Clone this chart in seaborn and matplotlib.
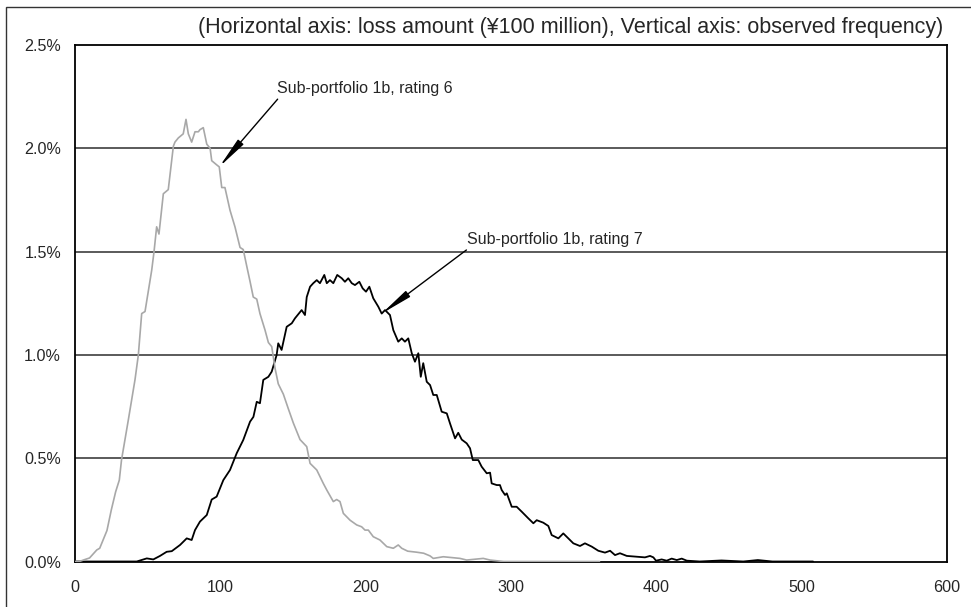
import pandas as pd
import matplotlib
matplotlib.use("Agg")
import matplotlib.pyplot as plt
import seaborn as sns
from matplotlib.patches import Rectangle

# 横轴: 损失额 (亿日元), 纵轴: 观测频率 (%)
r6_x = [0, 3, 7, 10, 15, 17, 22, 25, 28, 30.5, 32, 36.7, 41.3, 43.6, 45.9, 48.2, 52.8, 54.4, 56.2, 57.8,
        60.8, 64.2, 67.7, 68.8, 71.1, 74.5, 76.4, 78.0, 80.3, 82.6, 84.9, 86.0, 88.3, 90.7, 93.0, 94.1,
        97.5, 99.3, 101.0, 103.2, 106.7, 110.1, 113.6, 115.8, 118.2, 120.5, 122.7, 125.1, 127.3, 130.8,
        133.1, 135.4, 137.7, 139.9, 143.4, 146.8, 150.3, 154.9, 159.5, 161.8, 166.4, 170.9, 173.3, 177.8,
        180.1, 182.4, 184.7, 189.3, 193.9, 197.3, 199.6, 201.9, 205.3, 209.9, 214.6, 219.1, 222.5, 224.9,
        229.0, 235.2, 240.0, 244.4, 246.6, 253.5, 265.0, 269.6, 281.0, 285.7, 295.0, 361.0]
r6_y = [0.0, 0.0, 0.01, 0.017, 0.056, 0.064, 0.15, 0.25, 0.338, 0.394, 0.491, 0.685, 0.88, 1.0, 1.2, 1.21,
        1.41, 1.5, 1.62, 1.585, 1.78, 1.80, 2.01, 2.03, 2.05, 2.07, 2.14, 2.07, 2.03, 2.08, 2.08, 2.09,
        2.10, 2.02, 2.0, 1.94, 1.92, 1.91, 1.81, 1.81, 1.70, 1.62, 1.52, 1.51, 1.43, 1.355, 1.28, 1.27,
        1.20, 1.12, 1.06, 1.04, 0.935, 0.86, 0.81, 0.74, 0.67, 0.59, 0.556, 0.475, 0.443, 0.378, 0.346,
        0.29, 0.30, 0.29, 0.233, 0.20, 0.177, 0.168, 0.152, 0.152, 0.12, 0.104, 0.072, 0.064, 0.08, 0.064,
        0.05, 0.045, 0.04, 0.027, 0.015, 0.023, 0.015, 0.007, 0.015, 0.007, 0.0, 0.0]

r7_x = [0, 26, 42.5, 49.4, 53.9, 58.5, 63.1, 66.6, 72.3, 76.9, 80.3, 82.6, 86.0, 90.7, 94.1, 97.5, 102.1,
        106.7, 111.3, 115.8, 120.5, 122.8, 125.1, 127.3, 129.6, 133.1, 135.4, 138.8, 139.9, 142.2, 145.7,
        149.2, 151.4, 156.0, 158.3, 159.5, 161.8, 164.0, 166.4, 168.6, 171.6, 173.3, 175.5, 177.8, 180.5,
        183.6, 185.8, 188.1, 190.5, 192.7, 195.7, 198.0, 200.3, 202.6, 205.3, 208.8, 211.1, 213.4, 216.8,
        219.1, 222.5, 224.9, 227.1, 229.4, 231.8, 234.0, 236.3, 238.0, 239.7, 242.1, 244.4, 246.6, 249.0,
        252.4, 255.9, 258.1, 261.6, 263.8, 266.2, 269.6, 271.9, 273.8, 277.6, 279.9, 283.4, 285.7, 286.8,
        290.3, 292.5, 293.7, 296.0, 297.2, 300.6, 304.0, 307.5, 312.0, 315.5, 317.8, 322.3, 325.8, 328.1,
        332.7, 336.1, 339.6, 343.0, 347.6, 351.0, 355.7, 360.2, 364.8, 368.3, 371.7, 375.1, 379.8, 386.6,
        392.3, 395.8, 398.1, 399.9, 403.8, 407.3, 410.7, 414.2, 417.6, 421.1, 430, 445, 460, 470, 480, 508]
r7_y = [0.0, 0.0, 0.0, 0.015, 0.01, 0.027, 0.047, 0.05, 0.08, 0.112, 0.104, 0.152, 0.193, 0.225, 0.30,
        0.314, 0.394, 0.443, 0.524, 0.588, 0.677, 0.70, 0.773, 0.766, 0.879, 0.894, 0.919, 1.0, 1.056,
        1.024, 1.136, 1.153, 1.177, 1.217, 1.193, 1.28, 1.33, 1.347, 1.362, 1.347, 1.387, 1.347, 1.362,
        1.347, 1.387, 1.371, 1.354, 1.371, 1.347, 1.338, 1.354, 1.322, 1.306, 1.33, 1.274, 1.233, 1.20,
        1.217, 1.193, 1.12, 1.064, 1.08, 1.064, 1.08, 1.008, 0.967, 1.008, 0.894, 0.96, 0.87, 0.854, 0.806,
        0.806, 0.725, 0.717, 0.669, 0.596, 0.623, 0.59, 0.572, 0.548, 0.491, 0.491, 0.459, 0.427, 0.43,
        0.378, 0.37, 0.37, 0.346, 0.322, 0.33, 0.265, 0.265, 0.241, 0.209, 0.185, 0.20, 0.188, 0.172,
        0.128, 0.112, 0.136, 0.112, 0.088, 0.075, 0.088, 0.072, 0.052, 0.043, 0.052, 0.031, 0.04, 0.027,
        0.023, 0.02, 0.027, 0.02, 0.004, 0.01, 0.004, 0.014, 0.007, 0.014, 0.004, 0.0, 0.005, 0.0, 0.007,
        0.0, 0.0]

label_r6 = "Sub-portfolio 1b, rating 6"
label_r7 = "Sub-portfolio 1b, rating 7"
title_text = "(Horizontal axis: loss amount (\u00a5100 million), Vertical axis: observed frequency)"
x_ticks = [0, 100, 200, 300, 400, 500, 600]
y_ticks = [0.0, 0.5, 1.0, 1.5, 2.0, 2.5]

df6 = pd.DataFrame({"loss": r6_x, "freq": r6_y})
df7 = pd.DataFrame({"loss": r7_x, "freq": r7_y})

sns.set_style("white")
plt.rcParams['font.family'] = ['Liberation Sans', 'DejaVu Sans']

fig = plt.figure(figsize=(9.71, 6.07), dpi=100)
ax = fig.add_axes([75 / 971, 45.5 / 607, (946.7 - 75) / 971, (561.5 - 45) / 607])

# 横线
for yv in y_ticks[1:-1]:
    ax.axhline(yv, color='#4d4d4d', lw=1.3, zorder=1)

sns.lineplot(data=df7, x="loss", y="freq", ax=ax, color='black', lw=1.3, estimator=None, zorder=3)
sns.lineplot(data=df6, x="loss", y="freq", ax=ax, color='#a8a8a8', lw=1.2, estimator=None, zorder=4)

ax.set_xlim(0, 600)
ax.set_ylim(0, 2.5)
ax.set_xticks(x_ticks)
ax.set_yticks(y_ticks)
ax.set_yticklabels([f"{v:.1f}%" for v in y_ticks])
ax.set_xlabel("")
ax.set_ylabel("")
ax.tick_params(axis='x', direction='in', length=5, width=1, pad=13, labelsize=11.6, color='#333333')
ax.tick_params(axis='y', direction='in', length=5, width=1.3, pad=10, labelsize=11.6, color='#333333')
for sp in ax.spines.values():
    sp.set_color('black')
    sp.set_linewidth(1.3)

# 注释箭头
arrow = dict(arrowstyle="-|>,head_length=1.9,head_width=0.22", color='black', lw=1.0,
             shrinkA=0, shrinkB=0, mutation_scale=10)
ax.annotate(label_r6, xy=(99.3, 1.91), xytext=(139, 2.29), fontsize=11.5,
            ha='left', va='center', arrowprops=dict(arrow, relpos=(0.02, 0.0)))
ax.annotate(label_r7, xy=(211.1, 1.20), xytext=(270, 1.56), fontsize=11.5,
            ha='left', va='center', arrowprops=dict(arrow, relpos=(0.02, 0.0)))

fig.text(943 / 971, 1 - 27 / 607, title_text, ha='right', va='center', fontsize=15.5)

# 外框
fig.add_artist(Rectangle((6 / 971, -0.1), 1.2, 1.1 - 7 / 607, transform=fig.transFigure,
                         fill=False, edgecolor='#333333', lw=1.0))

fig.savefig("out.png", dpi=100)
